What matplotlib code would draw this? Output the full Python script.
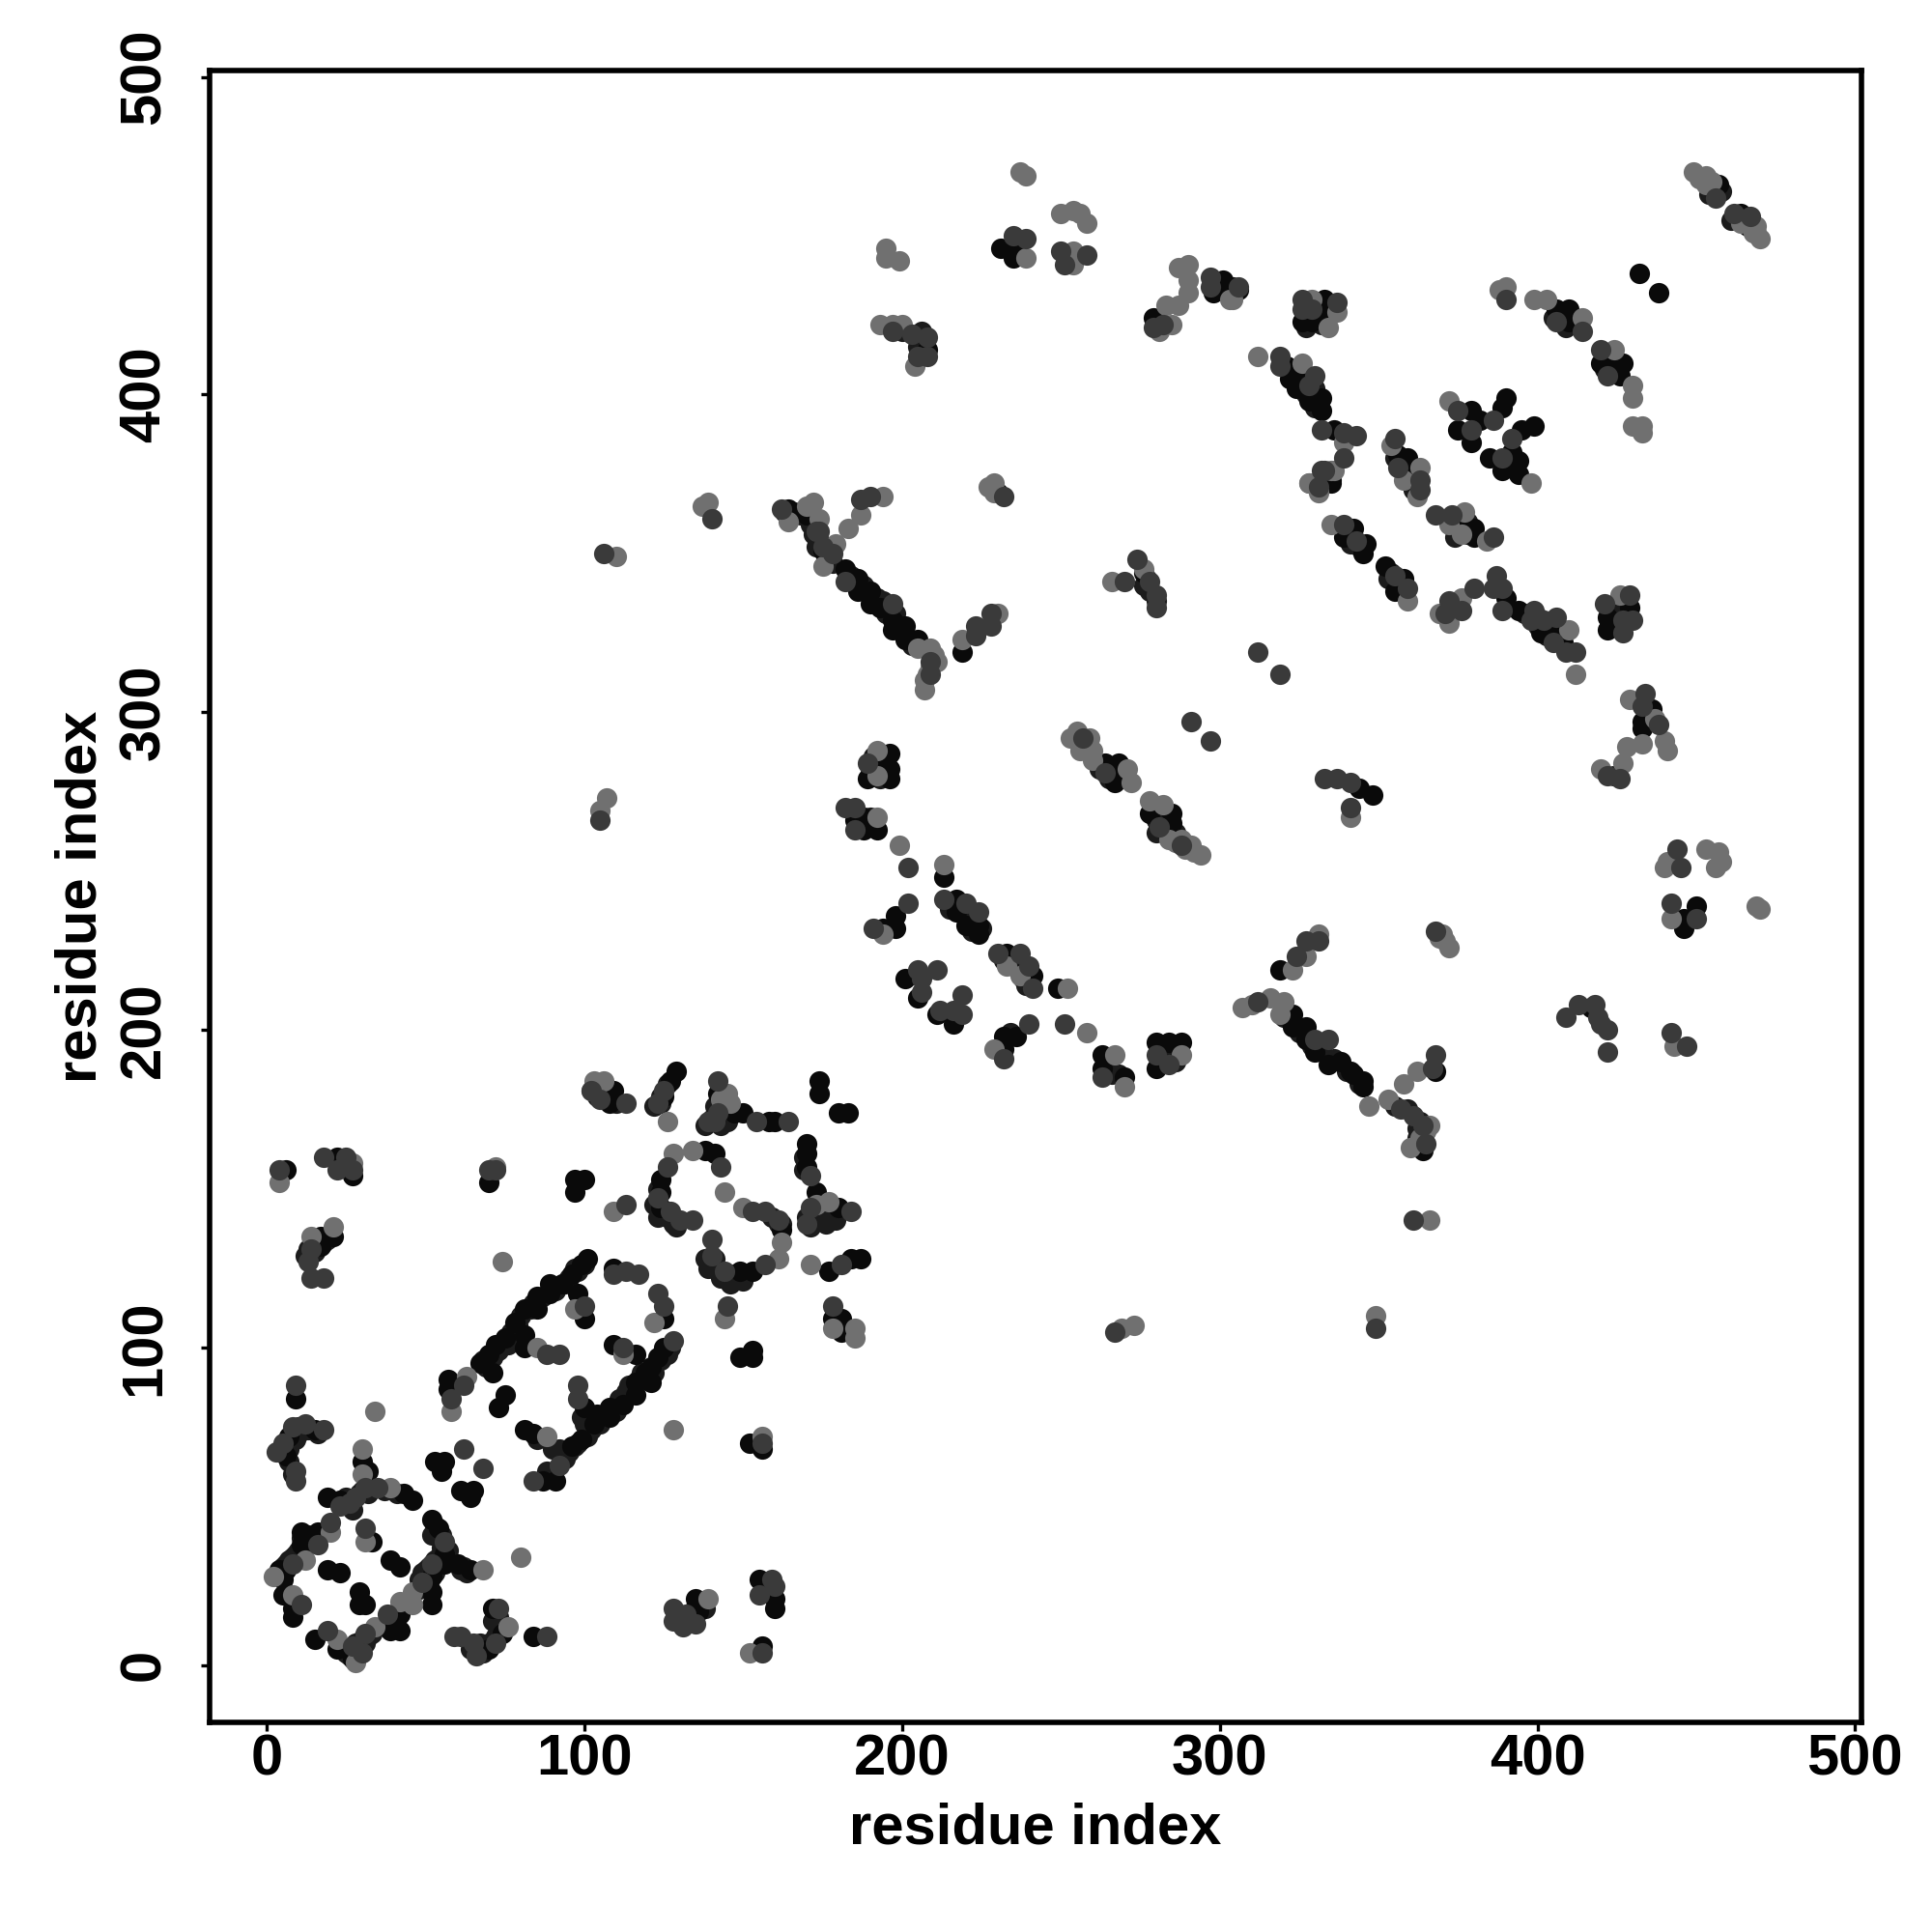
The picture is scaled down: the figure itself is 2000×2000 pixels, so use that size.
import matplotlib
matplotlib.use("Agg")
import matplotlib.pyplot as plt

# Each series: residue index pairs, by marker shade
dark_points = [
(4,156),(18,160),(25,160),(22,156),(27,156),(14,131),(13,127),(14,122),(18,122),(70,156),(72,156),
(113,145),(102,181),(113,177),(105,178),(125,181),(123,177),(142,184),(142,174),(139,171),(141,171),(154,171),(164,171),
(171,154),(171,144),(170,139),(184,143),(143,157),(126,157),(123,147),(127,143),(130,140),(134,140),
(153,143),(157,143),(161,140),(140,134),(140,129),(144,124),(157,126),(181,126),(145,113),(178,113),
(62,88),(58,84),(88,98),(92,98),(100,113),(113,124),(117,123),(109,123),(123,117),(125,113),(112,100),(128,102),
(92,63),(84,58),(9,88),(12,76),(8,75),(5,70),(3,67),(18,74),(9,61),(9,58),(31,56),(35,56),(28,53),(26,51),(23,50),
(20,45),(16,38),(8,32),(11,19),(19,11),(27,6),(30,4),(31,10),(38,16),(49,26),(52,32),(56,39),
(59,9),(61,9),(65,7),(66,3),(72,7),(73,18),(88,9),(62,68),(68,62),(31,43),(128,18),(128,14),(132,16),(131,12),(135,13),
(159,27),(160,25),(155,22),(156,4),(156,70),(98,88),(98,84),
(174,357),(178,350),(187,367),(190,368),(182,341),(197,334),(209,316),(209,312),(223,324),(223,327),(228,327),(228,331),(232,368),
(274,348),(270,341),(278,341),(280,337),(280,333),(312,319),(319,312),(291,297),(297,291),(257,292),(264,281),(281,264),(288,258),
(333,279),(337,279),(341,278),(341,270),(339,359),(343,354),(355,343),(359,339),(333,376),(189,284),(182,270),(185,270),(185,263),
(202,251),(202,240),(191,232),(213,241),(220,240),(224,237),(230,224),(237,224),(240,220),(241,213),(205,219),(211,219),(206,216),(206,212),
(219,211),(212,206),(216,206),(219,205),(240,202),(251,202),(232,191),(263,185),(280,192),(284,189),
(312,209),(330,197),(334,197),(324,223),(327,228),(331,228),(357,175),(361,173),(365,164),(364,170),(367,188),(368,192),(361,140),
(349,106),(267,105),(409,204),(413,208),(418,208),(420,202),(422,200),(422,193),(419,204),(442,199),(447,195),(442,240),(450,235),
(444,257),(445,251),(368,231),(456,462),(462,457),(467,456),(390,430),(406,423),(414,420),(420,414),(422,406),(306,434),
(326,427),(337,429),(329,427),(319,412),(319,409),(330,406),(328,403),(332,389),(339,388),(343,387),(339,380),(332,376),(331,371),
(355,386),(356,377),(363,373),(363,370),(368,362),(373,362),(386,355),(375,395),(379,389),(386,392),(392,386),(389,380),
(380,339),(372,335),(376,332),(371,331),(387,343),(386,339),(389,339),(389,332),(399,332),(398,329),(402,329),(406,330),(405,322),(412,319),(409,319),
(421,334),(429,337),(427,329),(430,329),(427,325),(434,306),(433,302),(438,296),(422,280),(426,279),
(326,430),(235,450),(239,449),(250,445),(251,441),(258,444),(197,420),(203,419),(208,418),(205,412),(208,412),(140,361),(105,266),(106,350),
(162,364),(173,357),(175,352),(282,422),(279,421),(297,437),(297,434),
]
black_points = [
(6,156),(22,160),(27,154),(21,135),(17,135),(17,132),(70,152),(97,153),(100,153),(97,149),(105,181),(109,181),(108,177),
(129,187),(127,184),(125,179),(142,180),(147,174),(150,174),(158,171),(160,171),(174,184),(174,180),(180,174),(183,174),
(170,164),(170,161),(170,157),(173,149),(180,144),(138,162),(141,161),(124,153),(124,149),(124,144),(162,137),(149,124),(153,124),
(177,124),(184,128),(187,128),(178,109),(181,109),(181,105),(149,97),(153,99),(153,97),(152,70),(156,68),
(57,90),(57,87),(67,95),(70,98),(72,101),(75,103),(78,108),(81,104),(81,112),(85,112),(85,116),(89,117),(89,120),(93,120),(96,123),(99,126),(101,128),
(71,92),(75,85),(73,81),(81,100),(98,117),(100,109),(109,125),(125,109),(109,101),(116,98),(125,100),(123,97),(121,94),(119,92),(121,89),(116,89),
(116,85),(112,82),(108,81),(108,78),(104,79),(103,76),(99,71),(96,69),(100,81),(81,74),(84,73),(87,58),(91,58),
(9,84),(7,72),(6,66),(15,74),(30,64),(32,61),(43,54),(46,52),(23,52),(19,53),(16,42),(11,42),(11,38),(6,30),(4,30),(5,27),(5,22),(8,18),(8,15),
(15,8),(22,5),(27,2),(39,11),(42,11),(42,16),(52,19),(52,23),(52,28),(56,32),(54,43),(52,46),(60,32),(64,30),(56,35),(33,39),(39,33),(42,31),
(19,30),(23,29),(29,23),(29,19),(31,19),(71,18),(70,5),(74,10),(84,9),(53,64),(56,64),(55,61),(61,55),(65,55),(64,53),
(135,21),(136,17),(155,27),(160,21),(160,18),(156,6),(175,351),(182,345),(186,342),(186,338),(190,338),(190,334),(193,333),(197,329),(197,326),(201,327),(201,323),(205,323),
(219,319),(230,369),(276,344),(264,284),(268,284),(267,280),(267,278),(285,268),(278,268),(285,265),(344,276),(348,274),(342,358),(339,355),(346,353),(345,350),
(352,346),(358,342),(355,338),(335,372),(196,287),(193,284),(196,282),(189,279),(196,279),(188,267),(185,266),(188,263),(192,263),(213,248),
(198,236),(194,232),(198,232),(217,241),(217,237),(220,233),(224,233),(224,230),(233,224),(241,217),(249,213),(201,216),(205,210),(211,205),(216,202),
(232,198),(236,198),(232,194),(263,192),(263,188),(270,185),(280,196),(288,196),(284,196),(280,188),(323,205),(323,201),(327,201),(327,197),(330,193),(338,190),(334,189),(342,186),(345,184),
(319,219),(341,187),(345,182),(364,162),(368,187),(417,207),(450,239),(446,235),(446,232),(457,466),(464,457),(432,438),(438,432),
(406,427),(410,427),(410,423),(427,410),(420,410),(422,409),(426,406),(301,436),(333,430),(326,423),(329,423),(333,425),(321,409),(322,405),(325,405),(324,402),(328,398),(332,399),(332,395),
(336,389),(335,373),(356,381),(359,380),(359,376),(376,358),(380,358),(380,355),(379,395),(375,389),(379,385),(382,392),(389,396),(390,399),(395,389),(399,390),
(392,382),(385,380),(389,376),(394,379),(394,375),(390,336),(394,332),(401,325),(406,325),(408,322),(429,333),(422,330),(422,326),(436,301),(433,297),(433,295),(424,280),
(231,446),(235,443),(236,446),(208,414),(164,364),(170,362),(279,424),(300,434),(304,434),(306,433),(298,432),
]
grey_points = [
(4,152),(27,158),(21,138),(14,135),(72,157),(103,184),(106,184),(102,181),(109,143),(74,127),(126,171),(145,180),(146,177),
(173,145),(177,146),(134,162),(128,161),(144,149),(150,144),(162,133),(161,128),(171,126),(144,109),(178,106),(185,106),(185,103),(156,72),(128,74),
(63,91),(58,80),(85,100),(97,112),(122,108),(112,98),(88,72),(34,80),(30,68),(30,60),(39,56),(20,42),(12,33),(2,28),(8,22),(22,8),(28,1),(34,12),(42,20),(46,23),(46,19),(68,30),(80,34),
(31,39),(76,12),(139,21),(152,4),(172,366),(174,361),(179,353),(175,346),(194,368),(187,362),(183,358),(205,320),(209,320),(211,316),(207,310),(207,307),(219,323),(230,331),
(227,371),(229,372),(276,345),(266,341),(255,294),(259,292),(256,288),(260,288),(260,285),(271,282),(272,278),(278,272),(282,271),(284,260),(288,260),(291,258),(294,255),
(341,267),(335,359),(359,335),(328,372),(331,369),(335,376),(192,288),(192,280),(192,267),(199,258),(213,252),(194,230),(233,220),(237,217),(252,213),(258,199),(229,194),(267,192),(288,192),(270,182),
(307,207),(310,208),(316,210),(320,209),(319,205),(323,219),(327,223),(331,230),(347,176),(353,178),(358,183),(362,187),(366,170),(360,163),(366,140),(349,110),(269,106),(273,107),
(443,195),(442,235),(469,239),(470,238),(441,253),(440,251),(453,257),(457,256),(458,253),(456,251),(370,230),(371,228),(372,226),
(449,470),(453,469),(453,466),(469,453),(470,449),(464,454),(388,433),(390,434),(399,430),(403,430),(414,424),(424,414),(430,403),(430,399),(430,390),(433,390),(433,388),(304,430),
(329,430),(337,426),(334,421),(312,412),(326,410),(339,385),(336,376),(328,372),(331,370),(354,384),(363,377),(358,373),(362,368),(377,363),(372,359),(376,356),(384,354),
(372,398),(398,372),(376,336),(369,331),(372,328),(410,326),(412,312),(426,337),(429,304),(437,298),(433,290),(440,291),(441,288),(428,289),(427,284),(420,282),
(237,470),(239,469),(250,457),(254,458),(256,457),(258,454),(239,443),(254,445),(254,441),(195,446),(195,443),(199,442),(193,422),(197,422),(200,422),(204,409),(139,366),(137,365),(110,349),
(107,273),(105,269),(164,360),(170,365),(283,428),(285,422),(281,420),(287,440),(290,441),(290,436),(290,432),(287,428),(303,430),
(255,291),(258,289),(258,290),(292,256),(286,259),(289,257),(455,467),(451,468),(468,451),(469,451),(253,292),(369,229),(209,314),(208,312),(210,318),(229,369),(143,178),(365,168),(363,166),
]
# Further marks inside the dense bands, where markers overlap heavily
band_points = [
(6,70),(7,68),(8,74),(10,73),(9,71),(5,67),(7,64),(8,60),(10,75),(13,74),(16,73),
(4,29),(5,31),(6,32),(7,33),(8,34),(9,35),(10,36),(11,40),(13,41),(14,39),
(24,5),(25,4),(26,3),(28,4),(29,5),(31,7),(32,9),(33,10),(30,8),(28,7),
(48,27),(49,29),(50,30),(51,31),(53,33),(54,34),(55,37),(53,29),(52,41),(55,41),(53,44),(51,25),(57,36),(48,24),
(24,51),(25,53),(27,52),(29,54),(30,55),(32,54),(27,49),(41,54),(37,55),(61,30),(63,29),(62,31),
(64,5),(66,5),(68,4),(70,7),(72,9),(73,11),(67,7),(71,14),(73,15),
(68,96),(69,94),(71,97),(73,99),(76,101),(77,105),(79,107),(80,110),(83,112),(84,114),(87,116),(91,118),(94,120),(95,122),(97,125),(98,124),(100,126),
(94,65),(95,67),(97,69),(98,70),(101,72),(102,74),(105,76),(106,78),(110,80),(111,84),(113,86),(114,88),(117,90),(118,92),(120,90),(122,92),(124,96),(126,98),(127,100),(100,76),(99,78),
(85,71),(90,68),(92,68),(93,66),(90,60),(88,61),
(124,142),(125,143),(126,141),(128,139),(129,138),(123,150),(122,145),(123,141),
(139,125),(141,128),(142,124),(143,122),(145,122),(146,120),(147,123),(148,122),(150,121),(138,128),
(170,141),(171,138),(172,141),(174,142),(175,140),(176,139),(178,141),(179,140),(169,160),(169,156),
(141,176),(143,176),(144,174),(140,172),(138,170),(143,170),(145,171),(161,139),(159,141),(162,139),
(124,179),(126,183),(122,176),(124,177),(104,179),(107,178),(110,177),
(12,129),(15,130),(16,134),(18,133),(19,134),(13,131),(130,15),(132,13),(134,15),(137,19),(134,17),(138,18),
(163,363),(166,363),(168,362),(171,359),(172,356),(174,354),(176,349),(177,348),(173,352),(178,347),
(184,343),(188,340),(192,336),(195,331),(199,326),(203,321),(198,331),(194,335),
(320,204),(322,203),(325,199),(329,195),(332,194),(336,191),(340,187),(344,183),
(355,176),(359,175),(363,171),(362,166),(363,164),(362,169),
(190,282),(193,279),(194,286),(191,286),(186,267),(186,264),(190,264),(190,267),
(215,238),(219,238),(222,236),(225,232),(222,231),(235,220),(238,216),(239,214),(236,222),(232,222),
(264,187),(265,190),(266,186),(268,186),(281,190),(286,193),(283,192),(286,190),(282,194),
(262,282),(265,279),(263,283),(266,282),(269,280),(280,266),(282,267),(283,264),(286,262),(280,262),
(330,429),(331,426),(328,425),(335,427),(327,421),(405,424),(408,425),(412,422),(409,421),(423,411),(425,409),(421,408),(424,407),
(322,407),(324,406),(326,403),(327,400),(329,400),(330,396),(330,402),
(355,380),(357,378),(358,378),(360,375),(361,376),(360,372),(361,370),(374,360),(375,357),(378,356),(378,360),(374,355),
(400,330),(403,327),(404,328),(407,323),(396,331),(403,324),(400,327),(424,333),(425,327),(424,331),(428,331),(428,335),
(455,464),(455,465),(454,463),(458,464),(463,455),(465,455),(466,453),(461,455),
(341,356),(344,352),(341,353),(354,344),(356,341),(357,340),(353,342),(232,196),(234,199),(330,424),(332,422),
(276,340),(278,338),(277,342),(280,335),(207,416),(205,415),(206,420),(200,420),
]
shade_dark = "#3a3a3a"
shade_band = "#1c1c1c"
shade_black = "#0a0a0a"
shade_grey = "#707070"
x_ticks = [0, 100, 200, 300, 400, 500]
y_ticks = [0, 100, 200, 300, 400, 500]
axis_label = "residue index"

plt.rcParams['font.family'] = ['Liberation Sans', 'DejaVu Sans']
fig = plt.figure(figsize=(10, 10), dpi=200)
ax = fig.add_axes([217/2000, 1-1783/2000, (1927-217)/2000, (1783-73)/2000])
for pts, c in [(band_points, shade_band), (black_points, shade_black), (grey_points, shade_grey), (dark_points, shade_dark)]:
    ax.scatter([p[0] for p in pts], [p[1] for p in pts], s=58, c=c, linewidths=0, zorder=2)
ax.set_xlim(-18, 502)
ax.set_ylim(-18, 502)
ax.set_xticks(x_ticks)
ax.set_yticks(y_ticks)
ax.tick_params(axis='x', length=3.2, width=1.2, pad=1, labelsize=21.5)
ax.tick_params(axis='y', length=3.2, width=1.2, pad=11, labelsize=21.5)
for t in ax.get_xticklabels():
    t.set_fontweight('bold')
for t in ax.get_yticklabels():
    t.set_fontweight('bold')
    t.set_rotation(90)
    t.set_va('center')
for s in ax.spines.values():
    s.set_linewidth(2.0)
ax.set_xlabel(axis_label, fontsize=21.5, fontweight='bold', labelpad=5.7)
ax.set_ylabel(axis_label, fontsize=21.5, fontweight='bold', labelpad=4)
fig.savefig("out.png", dpi=200, facecolor="white")
